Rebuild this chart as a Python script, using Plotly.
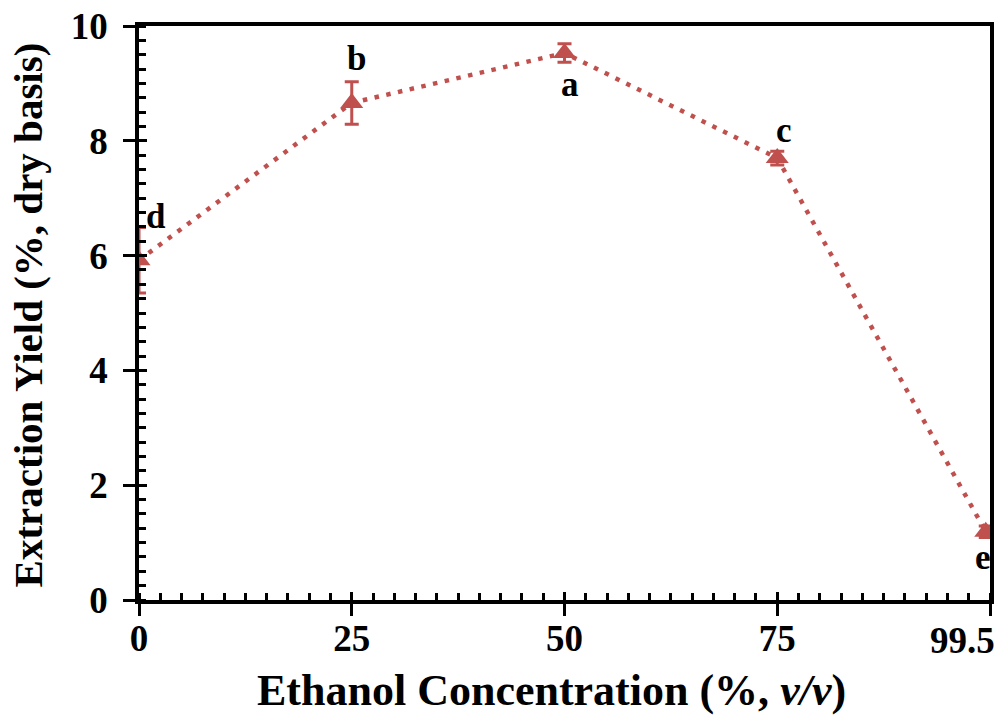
import plotly.graph_objects as go

# Data
ethanol_pct = [0, 25, 50, 75, 99.5]
yield_pct = [5.92, 8.66, 9.53, 7.70, 1.19]
yield_err = [0.57, 0.37, 0.16, 0.12, 0.10]
sig_letters = ["d", "b", "a", "c", "e"]
x_tick_vals = [0, 25, 50, 75]
x_tick_text = ["0", "25", "50", "75"]
last_label = "99.5"
x_title = "Ethanol Concentration (%, <i>v/v</i>)"
y_title = "Extraction Yield (%, dry basis)"

RED = "#C0504D"
FONT = "Liberation Serif"
TICK_SIZE = 37

fig = go.Figure()
fig.add_trace(go.Scatter(
    x=ethanol_pct, y=yield_pct, mode="lines+markers",
    line=dict(color=RED, width=4.5, dash="4.5px,7.5px"),
    marker=dict(symbol="triangle-up", size=20, color=RED),
    error_y=dict(type="data", array=yield_err, visible=True, color=RED, thickness=3, width=7),
    showlegend=False, hoverinfo="skip",
))
# helper (empty) trace for inward major tick overlay axes
fig.add_trace(go.Scatter(x=[None], y=[None], xaxis="x2", yaxis="y2", showlegend=False, hoverinfo="skip"))

# letters (pixel offsets right / up)
offsets = {"d": (17, 44), "b": (5, 44), "a": (5, -32), "c": (7, 28), "e": (-3, -26)}
for xv, yv, lab in zip(ethanol_pct, yield_pct, sig_letters):
    dx, dy = offsets[lab]
    fig.add_annotation(x=xv, y=yv, text=lab, showarrow=False, xshift=dx, yshift=dy,
                       font=dict(family=FONT, size=35, color="black", weight="bold"))

fig.add_annotation(x=100, y=0, xref="x", yref="y", text=last_label, showarrow=False,
                   xanchor="right", yanchor="top", xshift=7, yshift=-18,
                   font=dict(family=FONT, size=TICK_SIZE, color="black", weight="bold"))

# axis titles
fig.add_annotation(x=0.485, y=-0.157, xref="paper", yref="paper", text=x_title, showarrow=False,
                   xanchor="center", yanchor="middle",
                   font=dict(family=FONT, size=44, color="black", weight="bold"))
fig.add_annotation(x=-0.13, y=0.4965, xref="paper", yref="paper", text=y_title, showarrow=False,
                   textangle=-90, xanchor="center", yanchor="middle",
                   font=dict(family=FONT, size=41, color="black", weight="bold"))

axis_common = dict(showline=True, linecolor="black", linewidth=3.5, mirror=True,
                   showgrid=False, zeroline=False, automargin=False,
                   tickfont=dict(family=FONT, size=TICK_SIZE, color="black", weight="bold"),
                   ticks="outside", ticklen=12, tickwidth=3, tickcolor="black")

fig.update_layout(
    width=1001, height=725,
    margin=dict(l=139, r=11, t=26, b=125),
    paper_bgcolor="white", plot_bgcolor="white",
    xaxis=dict(range=[0, 100], tickvals=x_tick_vals + [100], ticktext=x_tick_text + [""],
               ticklabelstandoff=-9,
               minor=dict(ticks="inside", dtick=2.5, tick0=0, ticklen=7, tickwidth=3, tickcolor="black"),
               **axis_common),
    yaxis=dict(range=[0, 10], tickvals=[0, 2, 4, 6, 8, 10], ticklabelstandoff=8,
               minor=dict(ticks="inside", dtick=0.25, tick0=0, ticklen=7, tickwidth=3, tickcolor="black"),
               **axis_common),
    xaxis2=dict(overlaying="x", anchor="y2", range=[0, 100], tickvals=x_tick_vals + [100],
                ticks="inside", ticklen=8, tickwidth=3, tickcolor="black", automargin=False,
                showticklabels=False, showline=False, showgrid=False, zeroline=False, side="bottom"),
    yaxis2=dict(overlaying="y", anchor="x2", range=[0, 10], tickvals=[0, 2, 4, 6, 8, 10],
                ticks="inside", ticklen=8, tickwidth=3, tickcolor="black", automargin=False,
                showticklabels=False, showline=False, showgrid=False, zeroline=False, side="left"),
)

fig.write_html("out.html")
